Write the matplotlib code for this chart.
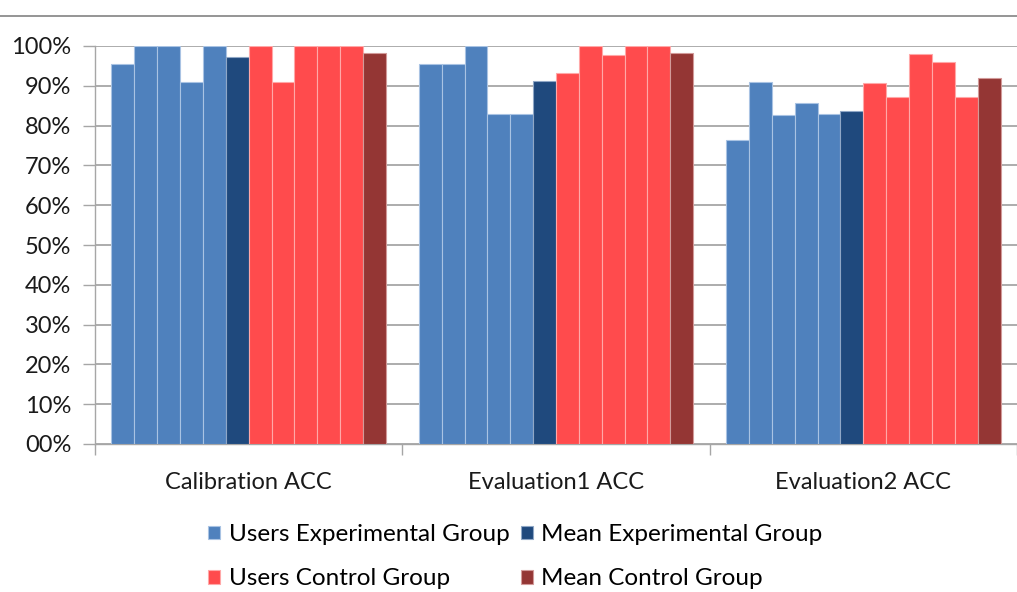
import numpy as np
import matplotlib
matplotlib.use("Agg")
import matplotlib.pyplot as plt
from matplotlib.lines import Line2D

plt.rcParams["font.family"] = ["Lato", "DejaVu Sans"]

# data (fractions)
categories = ["Calibration ACC", "Evaluation1 ACC", "Evaluation2 ACC"]
users_exp = [
    [0.955, 1.00, 1.00, 0.91, 1.00],
    [0.955, 0.955, 1.00, 0.83, 0.83],
    [0.764, 0.91, 0.827, 0.857, 0.83],
]
mean_exp = [0.973, 0.913, 0.837]
users_ctrl = [
    [1.00, 0.91, 1.00, 1.00, 1.00],
    [0.932, 1.00, 0.977, 1.00, 1.00],
    [0.907, 0.871, 0.98, 0.961, 0.871],
]
mean_ctrl = [0.982, 0.982, 0.919]
y_ticks = [0, 0.1, 0.2, 0.3, 0.4, 0.5, 0.6, 0.7, 0.8, 0.9, 1.0]
y_tick_labels = ["00%", "10%", "20%", "30%", "40%", "50%", "60%", "70%", "80%", "90%", "100%"]

c_users_exp = "#4F81BD"
c_mean_exp = "#1F497D"
c_users_ctrl = "#FF4B4D"
c_mean_ctrl = "#943634"

fig = plt.figure(figsize=(10.17, 5.92), dpi=100)
ax = fig.add_axes([95 / 1017, 1 - 444 / 592, 1 - 95 / 1017, (444 - 46) / 592])

w = 0.893 / 12
n_cat = len(categories)
xs_ue, hs_ue, xs_me, xs_uc, hs_uc, xs_mc = [], [], [], [], [], []
for i in range(n_cat):
    for j in range(5):
        xs_ue.append(i + (j - 5.5) * w)
        hs_ue.append(users_exp[i][j])
        xs_uc.append(i + (j + 6 - 5.5) * w)
        hs_uc.append(users_ctrl[i][j])
    xs_me.append(i + (5 - 5.5) * w)
    xs_mc.append(i + (11 - 5.5) * w)

kw = dict(width=w, linewidth=0.8, zorder=3)
b1 = ax.bar(xs_ue, hs_ue, color=c_users_exp, edgecolor="#A9C3E3", label="Users Experimental Group", **kw)
b2 = ax.bar(xs_me, mean_exp, color=c_mean_exp, edgecolor="#8FA7C6", label="Mean Experimental Group", **kw)
b3 = ax.bar(xs_uc, hs_uc, color=c_users_ctrl, edgecolor="#FFA8A8", label="Users Control Group", **kw)
b4 = ax.bar(xs_mc, mean_ctrl, color=c_mean_ctrl, edgecolor="#D29A99", label="Mean Control Group", **kw)

ax.set_xlim(-0.5, n_cat - 0.5)
ax.set_ylim(0, 1.0)
ax.set_yticks(y_ticks)
ax.set_yticklabels(y_tick_labels, fontsize=17, color="#1A1A1A")
ax.yaxis.grid(True, color="#A6A6A6", linewidth=1.3, zorder=0)
ax.set_axisbelow(True)

ax.set_xticks(range(n_cat))
ax.set_xticklabels(categories, fontsize=17, color="#1A1A1A")
ax.tick_params(axis="x", length=0, pad=20)
ax.set_xticks([-0.5, 0.5, 1.5, 2.5], minor=True)
ax.tick_params(axis="x", which="minor", length=8, color="#A6A6A6", width=1)
ax.tick_params(axis="y", length=9, color="#A6A6A6", width=1, pad=8)

for s in ["top", "right"]:
    ax.spines[s].set_visible(False)
ax.spines["left"].set_color("#A6A6A6")
ax.spines["bottom"].set_color("#A6A6A6")
ax.spines["left"].set_linewidth(1)
ax.spines["bottom"].set_linewidth(1)
ax.spines["left"].set_bounds(0, 1.0)

# chart border line at the top
fig.add_artist(Line2D([0, 1], [1 - 16 / 592, 1 - 16 / 592], color="#8C8C8C", linewidth=1.3))

fig.legend([b1, b3, b2, b4],
           ["Users Experimental Group", "Users Control Group",
            "Mean Experimental Group", "Mean Control Group"],
           ncol=2, loc="upper left", bbox_to_anchor=(196 / 1017, 1 - 512 / 592),
           frameon=False, fontsize=17.5, handlelength=0.5, handleheight=0.5,
           handletextpad=0.35, columnspacing=0.45, labelspacing=0.95, borderpad=0)

fig.savefig("out.png", dpi=100)
